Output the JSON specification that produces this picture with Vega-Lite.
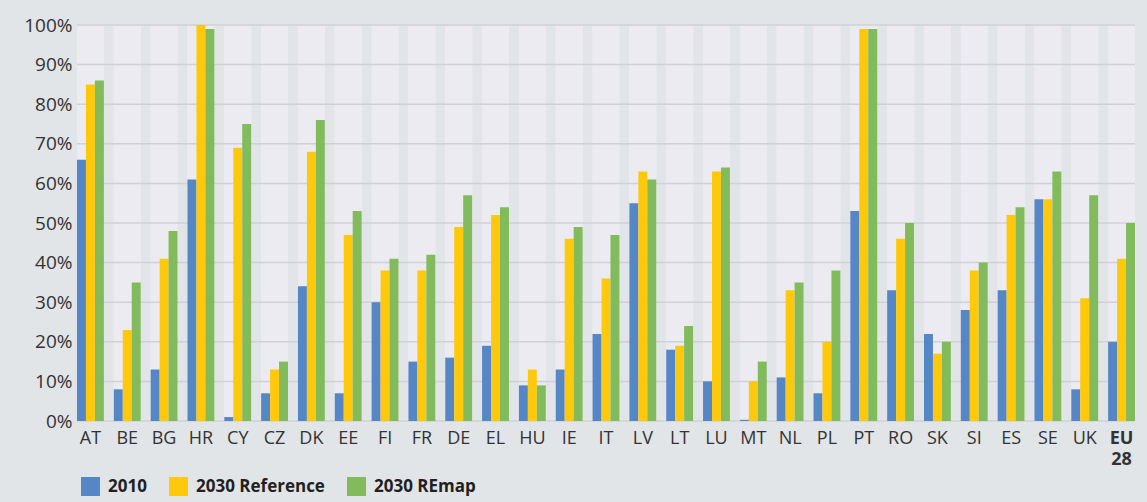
{
  "$schema": "https://vega.github.io/schema/vega-lite/v6.json",
  "width": 1058,
  "height": 396,
  "autosize": {"type": "none"},
  "padding": {"left": 77, "top": 25, "right": 12, "bottom": 81},
  "background": "#e1e5e8",
  "config": {
    "view": {"stroke": null, "fill": null},
    "font": "Open Sans",
    "axisY": {
      "title": null,
      "domain": false,
      "ticks": false,
      "grid": false,
      "values": [0, 10, 20, 30, 40, 50, 60, 70, 80, 90, 100],
      "tickCount": 10,
      "labelOverlap": false,
      "labelExpr": "datum.value + '%'",
      "labelFontSize": 19,
      "labelColor": "#333333",
      "labelPadding": 5
    }
  },
  "datasets": {
    "d": [
      {"c":"AT","s":"2010","v":66},{"c":"AT","s":"2030 Reference","v":85},{"c":"AT","s":"2030 REmap","v":86},
      {"c":"BE","s":"2010","v":8},{"c":"BE","s":"2030 Reference","v":23},{"c":"BE","s":"2030 REmap","v":35},
      {"c":"BG","s":"2010","v":13},{"c":"BG","s":"2030 Reference","v":41},{"c":"BG","s":"2030 REmap","v":48},
      {"c":"HR","s":"2010","v":61},{"c":"HR","s":"2030 Reference","v":100},{"c":"HR","s":"2030 REmap","v":99},
      {"c":"CY","s":"2010","v":1},{"c":"CY","s":"2030 Reference","v":69},{"c":"CY","s":"2030 REmap","v":75},
      {"c":"CZ","s":"2010","v":7},{"c":"CZ","s":"2030 Reference","v":13},{"c":"CZ","s":"2030 REmap","v":15},
      {"c":"DK","s":"2010","v":34},{"c":"DK","s":"2030 Reference","v":68},{"c":"DK","s":"2030 REmap","v":76},
      {"c":"EE","s":"2010","v":7},{"c":"EE","s":"2030 Reference","v":47},{"c":"EE","s":"2030 REmap","v":53},
      {"c":"FI","s":"2010","v":30},{"c":"FI","s":"2030 Reference","v":38},{"c":"FI","s":"2030 REmap","v":41},
      {"c":"FR","s":"2010","v":15},{"c":"FR","s":"2030 Reference","v":38},{"c":"FR","s":"2030 REmap","v":42},
      {"c":"DE","s":"2010","v":16},{"c":"DE","s":"2030 Reference","v":49},{"c":"DE","s":"2030 REmap","v":57},
      {"c":"EL","s":"2010","v":19},{"c":"EL","s":"2030 Reference","v":52},{"c":"EL","s":"2030 REmap","v":54},
      {"c":"HU","s":"2010","v":9},{"c":"HU","s":"2030 Reference","v":13},{"c":"HU","s":"2030 REmap","v":9},
      {"c":"IE","s":"2010","v":13},{"c":"IE","s":"2030 Reference","v":46},{"c":"IE","s":"2030 REmap","v":49},
      {"c":"IT","s":"2010","v":22},{"c":"IT","s":"2030 Reference","v":36},{"c":"IT","s":"2030 REmap","v":47},
      {"c":"LV","s":"2010","v":55},{"c":"LV","s":"2030 Reference","v":63},{"c":"LV","s":"2030 REmap","v":61},
      {"c":"LT","s":"2010","v":18},{"c":"LT","s":"2030 Reference","v":19},{"c":"LT","s":"2030 REmap","v":24},
      {"c":"LU","s":"2010","v":10},{"c":"LU","s":"2030 Reference","v":63},{"c":"LU","s":"2030 REmap","v":64},
      {"c":"MT","s":"2010","v":0.3},{"c":"MT","s":"2030 Reference","v":10},{"c":"MT","s":"2030 REmap","v":15},
      {"c":"NL","s":"2010","v":11},{"c":"NL","s":"2030 Reference","v":33},{"c":"NL","s":"2030 REmap","v":35},
      {"c":"PL","s":"2010","v":7},{"c":"PL","s":"2030 Reference","v":20},{"c":"PL","s":"2030 REmap","v":38},
      {"c":"PT","s":"2010","v":53},{"c":"PT","s":"2030 Reference","v":99},{"c":"PT","s":"2030 REmap","v":99},
      {"c":"RO","s":"2010","v":33},{"c":"RO","s":"2030 Reference","v":46},{"c":"RO","s":"2030 REmap","v":50},
      {"c":"SK","s":"2010","v":22},{"c":"SK","s":"2030 Reference","v":17},{"c":"SK","s":"2030 REmap","v":20},
      {"c":"SI","s":"2010","v":28},{"c":"SI","s":"2030 Reference","v":38},{"c":"SI","s":"2030 REmap","v":40},
      {"c":"ES","s":"2010","v":33},{"c":"ES","s":"2030 Reference","v":52},{"c":"ES","s":"2030 REmap","v":54},
      {"c":"SE","s":"2010","v":56},{"c":"SE","s":"2030 Reference","v":56},{"c":"SE","s":"2030 REmap","v":63},
      {"c":"UK","s":"2010","v":8},{"c":"UK","s":"2030 Reference","v":31},{"c":"UK","s":"2030 REmap","v":57},
      {"c":"EU28","s":"2010","v":20},{"c":"EU28","s":"2030 Reference","v":41},{"c":"EU28","s":"2030 REmap","v":50}
    ],
    "grid": [
      {"g":0},{"g":10},{"g":20},{"g":30},{"g":40},{"g":50},{"g":60},{"g":70},{"g":80},{"g":90},{"g":100}
    ]
  },
  "encoding": {
    "x": {
      "field": "c",
      "type": "nominal",
      "sort": null,
      "scale": {"paddingInner": 0.27, "paddingOuter": 0},
      "axis": {
        "title": null,
        "domain": false,
        "ticks": false,
        "labelAngle": 0,
        "labelFontSize": 18,
        "labelColor": "#333333",
        "labelPadding": 8,
        "labelBaseline": "top",
        "labelLineHeight": 21,
        "labelOverlap": false,
        "labelExpr": "datum.value == 'EU28' ? ['EU', '28'] : datum.value",
        "labelFontWeight": {"condition": {"test": "datum.value == 'EU28'", "value": "bold"}, "value": "normal"}
      }
    }
  },
  "layer": [
    {
      "data": {"name": "d"},
      "mark": {"type": "bar", "color": "#ebebf1"},
      "encoding": {
        "y": {
          "datum": 100,
          "type": "quantitative",
          "scale": {"domain": [0, 100], "nice": false}
        }
      }
    },
    {
      "data": {"name": "grid"},
      "mark": {"type": "rule", "color": "#d0d0d6", "strokeWidth": 1.5},
      "encoding": {
        "x": null,
        "y": {"field": "g", "type": "quantitative"}
      }
    },
    {
      "data": {"name": "d"},
      "mark": {"type": "bar"},
      "encoding": {
        "xOffset": {
          "field": "s",
          "type": "nominal",
          "sort": ["2010", "2030 Reference", "2030 REmap"],
          "scale": {"paddingInner": 0, "paddingOuter": 0}
        },
        "y": {"field": "v", "type": "quantitative"},
        "color": {
          "field": "s",
          "type": "nominal",
          "sort": ["2010", "2030 Reference", "2030 REmap"],
          "scale": {
            "domain": ["2010", "2030 Reference", "2030 REmap"],
            "range": ["#5586c6", "#ffc90b", "#82bb5b"]
          },
          "legend": {
            "title": null,
            "orient": "none",
            "direction": "horizontal",
            "legendX": 4,
            "legendY": 452,
            "padding": 0,
            "symbolType": "square",
            "symbolSize": 361,
            "symbolStrokeWidth": 0,
            "symbolOpacity": 1,
            "labelFontSize": 17,
            "labelFontWeight": "bold",
            "labelColor": "#231f20",
            "labelOffset": 8,
            "columnPadding": 22
          }
        }
      }
    }
  ]
}
